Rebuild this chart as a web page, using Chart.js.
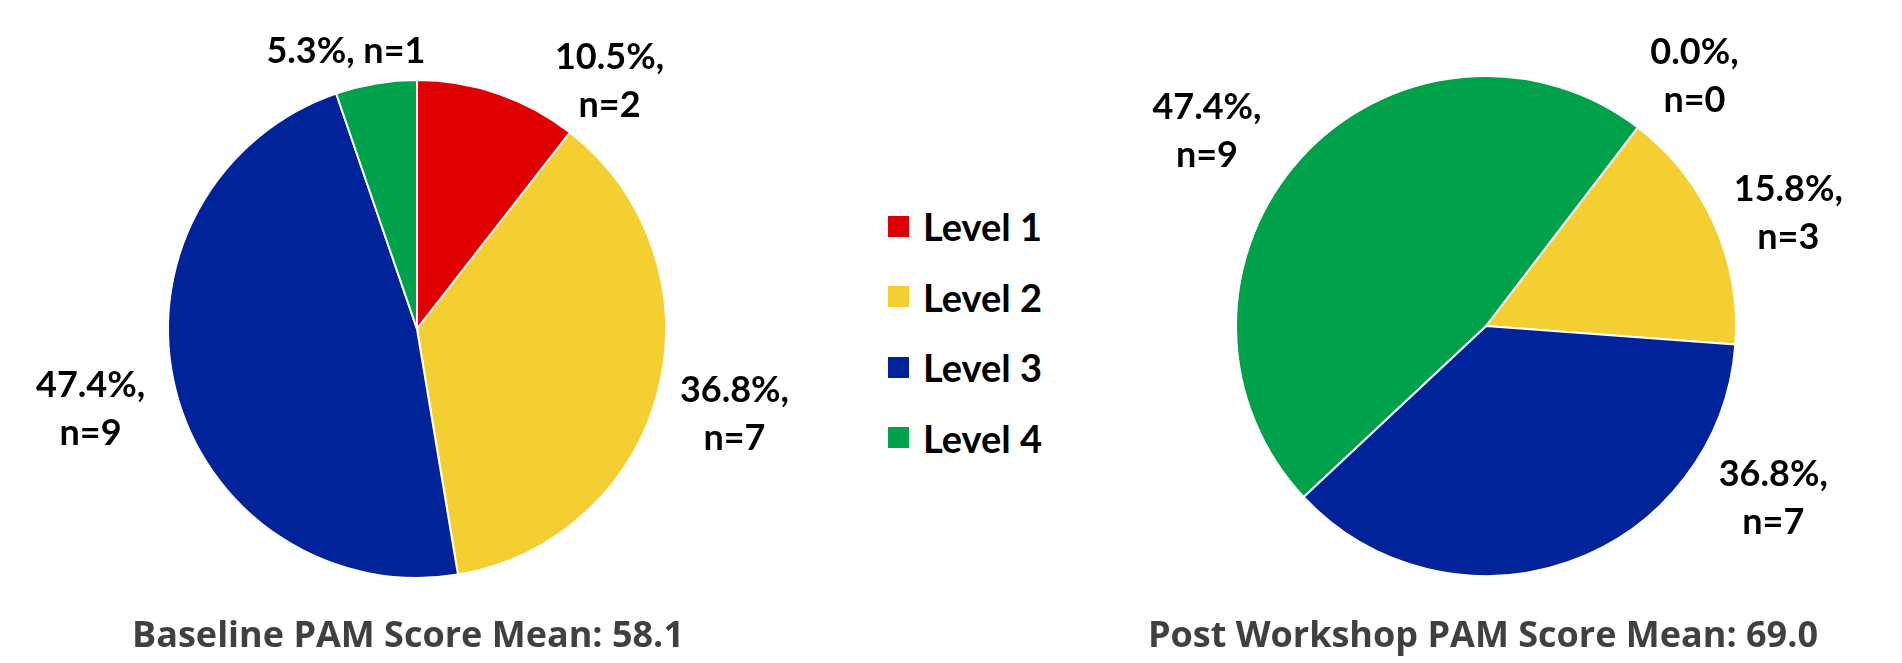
<!DOCTYPE html>
<html lang="en">
<head>
    <meta charset="UTF-8">
    <title>PAM Levels</title>
    <script src="https://cdn.jsdelivr.net/npm/chart.js"></script>
    <style>
        body { margin: 0; background: #ffffff; }
        .page { position: relative; width: 1902px; height: 663px; overflow: hidden; }
        .pie-box { position: absolute; top: 0; height: 663px; }
        .pie-title {
            position: absolute; top: 610px; width: 800px; text-align: center;
            font-family: 'Open Sans', sans-serif; font-weight: 700; font-size: 36px;
            color: #404040; line-height: 48px; white-space: nowrap;
        }
        .legend { position: absolute; left: 888px; top: 191px; }
        .legend-item {
            display: flex; align-items: center; height: 70.5px;
            font-family: Lato, sans-serif; font-weight: 700; font-size: 38px; color: #000;
        }
        .legend-swatch { width: 21px; height: 21px; margin-right: 14px; }
    </style>
</head>
<body>
<div class="page">
    <div class="pie-box" style="left:0; width:860px;"><canvas id="baselineChart"></canvas></div>
    <div class="pie-box" style="left:1060px; width:842px;"><canvas id="postChart"></canvas></div>
    <div class="legend" id="legend"></div>
    <div class="pie-title" style="left:8px;">Baseline PAM Score Mean: 58.1</div>
    <div class="pie-title" style="left:1083px;">Post Workshop PAM Score Mean: 69.0</div>
</div>

<script>
    // data
    const levels = ['Level 1', 'Level 2', 'Level 3', 'Level 4'];
    const baselineCounts = [2, 7, 9, 1];
    const postCounts = [0, 3, 7, 9];
    const levelColors = ['#e00000', '#f4cf31', '#00239a', '#00a14b'];

    // legend
    const legendEl = document.getElementById('legend');
    levels.forEach((lv, i) => {
        const row = document.createElement('div');
        row.className = 'legend-item';
        row.innerHTML = '<span class="legend-swatch" style="background:' + levelColors[i] + '"></span>' + lv;
        legendEl.appendChild(row);
    });

    // draws "xx.x%, n=y" outside each slice; da = angle nudge (deg), k = distance / radius
    const outsideLabels = {
        id: 'outsideLabels',
        afterDatasetsDraw(chart, args, opts) {
            const ctx = chart.ctx;
            const data = chart.data.datasets[0].data;
            const total = data.reduce((a, b) => a + b, 0);
            const arcs = chart.getDatasetMeta(0).data;
            ctx.save();
            ctx.fillStyle = '#000';
            ctx.font = 'bold 36px Lato, sans-serif';
            ctx.textAlign = 'center';
            ctx.textBaseline = 'middle';
            arcs.forEach((arc, i) => {
                const p = opts.place[i];
                const mid = (arc.startAngle + arc.endAngle) / 2 + p.da * Math.PI / 180;
                const r = arc.outerRadius * p.k;
                const x = arc.x + Math.cos(mid) * r;
                const y = arc.y + Math.sin(mid) * r;
                const pct = (data[i] / total * 100).toFixed(1) + '%,';
                const n = 'n=' + data[i];
                if (p.oneLine) {
                    ctx.fillText(pct + ' ' + n, x, y);
                } else {
                    ctx.fillText(pct, x, y - 24);
                    ctx.fillText(n, x, y + 24);
                }
            });
            ctx.restore();
        }
    };

    function makePie(id, counts, rotation, padding, place) {
        return new Chart(document.getElementById(id), {
            type: 'pie',
            data: {
                labels: levels,
                datasets: [{
                    data: counts,
                    backgroundColor: levelColors,
                    borderColor: '#ffffff',
                    borderWidth: 2,
                    hoverOffset: 0
                }]
            },
            options: {
                responsive: true,
                maintainAspectRatio: false,
                animation: false,
                rotation: rotation,
                layout: { padding: padding },
                plugins: {
                    legend: { display: false },
                    tooltip: { enabled: false },
                    outsideLabels: { place: place }
                }
            },
            plugins: [outsideLabels]
        });
    }

    makePie('baselineChart', baselineCounts, 0,
        { left: 167, right: 193, top: 79, bottom: 84 },
        [{ da: 18.9, k: 1.26 }, { da: 0.8, k: 1.32 }, { da: 0.4, k: 1.35 }, { da: -4.9, k: 1.15, oneLine: true }]);

    makePie('postChart', postCounts, 37.4,
        { left: 175, right: 165, top: 75, bottom: 86 },
        [{ da: 2.5, k: 1.30 }, { da: 3.8, k: 1.29 }, { da: -39.6, k: 1.34 }, { da: -7.3, k: 1.36 }]);
</script>
</body>
</html>
